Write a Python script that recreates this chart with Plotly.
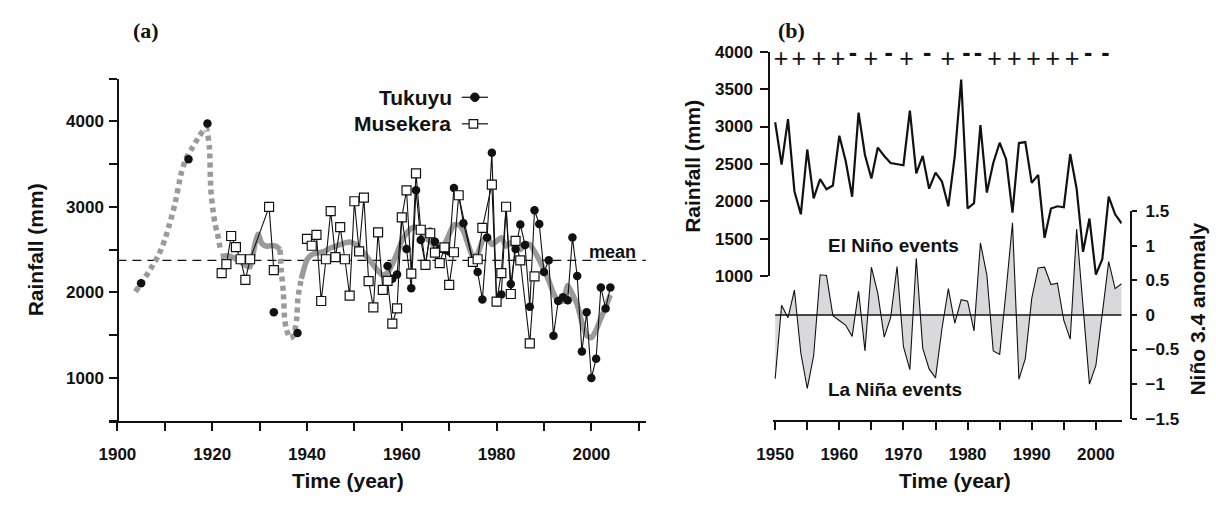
import plotly.graph_objects as go

W, H = 1216, 507

# ---------------- Panel (a) data ----------------
tukuyu_years = [1905, 1915, 1919, 1933, 1938,
                1957, 1958, 1959, 1960, 1961, 1962, 1963, 1964, 1965, 1966, 1967, 1968, 1969, 1970,
                1971, 1972, 1973, 1975, 1976, 1977, 1978, 1979, 1980, 1981, 1982, 1983, 1984, 1985,
                1986, 1987, 1988, 1989, 1990, 1991, 1992, 1993, 1994, 1995, 1996, 1997, 1998, 1999,
                2000, 2001, 2002, 2003, 2004]
tukuyu_rain = [2107, 3558, 3974, 1769, 1525,
               2310, 2160, 2210, 2875, 2507, 2050, 3194, 2613, 2320, 2710, 2594, 2510, 2500, 2480,
               3222, 3135, 2810, 2360, 2240, 1919, 2642, 3634, 1895, 1975, 3005, 2099, 2508, 2793,
               2556, 1833, 2961, 2800, 2238, 2376, 1495, 1900, 1945, 1908, 2643, 2193, 1311, 1769,
               1000, 1225, 2058, 1812, 2058]

musekera_years = [1922, 1923, 1924, 1925, 1926, 1927, 1928, 1932, 1933,
                  1940, 1941, 1942, 1943, 1944, 1945, 1946, 1947, 1948, 1949, 1950, 1951, 1952, 1953,
                  1954, 1955, 1956,
                  1957, 1958, 1959, 1960, 1961, 1962, 1963, 1964, 1965, 1966, 1967, 1968, 1969, 1970,
                  1971, 1972,
                  1975, 1976, 1977, 1979, 1980, 1981, 1982, 1983, 1984, 1985, 1987, 1988]
musekera_rain = [2226, 2331, 2660, 2530, 2388, 2148, 2388, 3000, 2262,
                 2626, 2546, 2673, 1900, 2388, 2950, 2414, 2763, 2388, 1964, 3066, 2481, 3108, 2133,
                 1826, 2703, 2031,
                 2136, 1635, 1814, 2878, 3194, 2219, 3392, 2733, 2323, 2692, 2466, 2342, 2527, 2088,
                 2470, 3136,
                 2358, 2388, 2755, 3260, 1892, 2227, 3002, 1982, 2602, 2376, 1405, 2187]

# smoothed curve (grey); dotted where data are sparse
smooth_early_years = [1903.8, 1905.5, 1907.2, 1908.6, 1910.0, 1911.0, 1912.1, 1913.5, 1914.5,
                      1915.9, 1917.3, 1918.7, 1919.4, 1919.7, 1920.1, 1920.6, 1921.1, 1921.8]
smooth_early_rain = [2010, 2145, 2295, 2425, 2615, 2800, 3025, 3400, 3570,
                     3700, 3830, 3925, 3700, 3210, 2990, 2800, 2690, 2480]

smooth_mid_years = [1921.8, 1923, 1924, 1925, 1926, 1927, 1928, 1929, 1929.7, 1930.5,
                    1931.5, 1932.5, 1933.5, 1934.3]
smooth_mid_rain = [2420, 2430, 2420, 2390, 2360, 2320, 2300, 2560, 2680, 2570,
                   2540, 2550, 2540, 2500]

smooth_gap_years = [1934.3, 1934.6, 1935.0, 1935.3, 1935.7, 1936.4, 1937.1, 1937.8, 1938.1, 1938.8]
smooth_gap_rain = [2500, 2240, 2010, 1680, 1560, 1470, 1490, 1680, 1940, 2160]

smooth_late_years = [1938.8] + list(range(1940, 2005))
smooth_late_rain = [2160,
                    2380, 2440, 2460, 2470, 2490, 2520, 2540, 2560, 2580, 2590,
                    2570, 2520, 2460, 2390, 2320, 2250, 2200, 2230, 2330, 2460,
                    2600, 2690, 2750, 2760, 2720, 2650, 2590, 2540, 2500, 2560,
                    2680, 2790, 2790, 2720, 2560, 2420, 2450, 2600, 2650, 2560,
                    2600, 2640, 2540, 2580, 2530, 2500, 2570, 2560, 2480, 2380,
                    2260, 2140, 1990, 1900, 1900, 2080, 1980, 1860, 1650, 1500,
                    1470, 1560, 1700, 1830, 1970]

mean_rain = 2375

# ---------------- Panel (b) data ----------------
years_b = list(range(1950, 2005))
rain_b = [3057, 2491, 3100, 2136, 1828, 2693, 2041, 2298, 2162, 2213,
          2877, 2535, 2063, 3185, 2620, 2307, 2719, 2607, 2513, 2500,
          2483, 3211, 2375, 2607, 2170, 2384, 2265, 1935, 2603, 3627,
          1905, 1977, 3018, 2118, 2513, 2783, 2564, 1849, 2779, 2792,
          2247, 2355, 1514, 1905, 1935, 1922, 2633, 2170, 1327, 1771,
          1022, 1227, 2063, 1828, 1707]
nino34 = [-0.92, 0.14, -0.04, 0.36, -0.55, -1.06, -0.59, 0.58, 0.57, -0.01,
          -0.08, -0.15, -0.31, 0.34, -0.52, 0.69, 0.31, -0.32, -0.04, 0.70,
          -0.46, -0.79, 0.82, -0.48, -0.78, -0.91, -0.20, 0.38, -0.12, 0.22,
          0.20, -0.23, 1.04, 0.58, -0.52, -0.57, 0.35, 1.33, -0.93, -0.63,
          0.24, 0.68, 0.69, 0.44, 0.46, -0.08, -0.35, 1.24, 0.12, -1.00,
          -0.73, 0.00, 0.77, 0.38, 0.45]
enso_years = [1950.9, 1953.7, 1956.8, 1959.8, 1962.1, 1964.9, 1967.7, 1970.5, 1973.7, 1976.9,
              1979.8, 1981.6, 1984.2, 1987.3, 1990.3, 1993.3, 1996.3, 1998.8, 2001.5, 2004.1]
enso_signs = ["+", "+", "+", "+", "-", "+", "-", "+", "-", "+",
              "-", "-", "+", "+", "+", "+", "+", "-", "-", "-"]

# ---------------- helpers ----------------
FONT = "Liberation Sans, Arial, Helvetica, sans-serif"
SERIF = "Liberation Serif, Times New Roman, serif"
BLACK = "#111111"
GREY = "#9a9a9a"


def PX(x):
    return x / W


def PY(y):
    return 1 - y / H


def with_breaks(xs, ys, max_gap):
    ox, oy = [], []
    for i, (x, y) in enumerate(zip(xs, ys)):
        if i > 0 and x - xs[i - 1] > max_gap:
            ox.append(None)
            oy.append(None)
        ox.append(x)
        oy.append(y)
    return ox, oy


fig = go.Figure()

# mean line
fig.add_trace(go.Scatter(x=[1900, 2011.5], y=[mean_rain, mean_rain], mode="lines",
                         line=dict(color=BLACK, width=1.2, dash="9px,6px"),
                         xaxis="x", yaxis="y", hoverinfo="skip"))

# grey smoothed curve
for xs, ys, dash in [(smooth_early_years, smooth_early_rain, "5px,4px"),
                     (smooth_mid_years, smooth_mid_rain, "solid"),
                     (smooth_gap_years, smooth_gap_rain, "5px,4px"),
                     (smooth_late_years, smooth_late_rain, "solid")]:
    fig.add_trace(go.Scatter(x=xs, y=ys, mode="lines",
                             line=dict(color=GREY, width=5.5, dash=dash, shape="spline", smoothing=0.6),
                             xaxis="x", yaxis="y", hoverinfo="skip"))

# Tukuyu
tx, ty = with_breaks(tukuyu_years, tukuyu_rain, 2)
fig.add_trace(go.Scatter(x=tx, y=ty, mode="lines+markers",
                         line=dict(color=BLACK, width=1.1),
                         marker=dict(symbol="circle", size=8.5, color=BLACK),
                         xaxis="x", yaxis="y", name="Tukuyu"))
# Musekera
mx, my = with_breaks(musekera_years, musekera_rain, 5)
fig.add_trace(go.Scatter(x=mx, y=my, mode="lines+markers",
                         line=dict(color=BLACK, width=1.1),
                         marker=dict(symbol="square", size=9, color="white",
                                     line=dict(color=BLACK, width=1.2)),
                         xaxis="x", yaxis="y", name="Musekera"))

# ---- panel (b)
fig.add_trace(go.Scatter(x=years_b, y=nino34, mode="lines", fill="tozeroy",
                         fillcolor="#d9d9db", line=dict(color=BLACK, width=1.1),
                         xaxis="x2", yaxis="y3", name="Niño 3.4"))
fig.add_trace(go.Scatter(x=years_b, y=rain_b, mode="lines",
                         line=dict(color=BLACK, width=2.2),
                         xaxis="x2", yaxis="y2", name="Rainfall"))

PLUS_Y = 3884
MINUS_Y = 3955
px_ = [x for x, s in zip(enso_years, enso_signs) if s == "+"]
mx_ = [x for x, s in zip(enso_years, enso_signs) if s == "-"]
fig.add_trace(go.Scatter(x=px_, y=[PLUS_Y] * len(px_), mode="text", text=["+"] * len(px_),
                         textfont=dict(family=FONT, size=25, color=BLACK),
                         textposition="middle center", cliponaxis=False,
                         xaxis="x2", yaxis="y2"))
fig.add_trace(go.Scatter(x=mx_, y=[MINUS_Y] * len(mx_), mode="text", text=["-"] * len(mx_),
                         textfont=dict(family=FONT, size=25, color=BLACK, weight="bold"),
                         textposition="middle center", cliponaxis=False,
                         xaxis="x2", yaxis="y2"))

tickfont = dict(family=FONT, size=17, color=BLACK, weight="bold")
axis_common = dict(showline=True, linecolor=BLACK, linewidth=2, ticks="outside",
                   ticklen=8, tickwidth=2, tickcolor=BLACK, showgrid=False,
                   zeroline=False, tickfont=tickfont)

xa_ticks = list(range(1900, 2011, 10))
ya_ticks = list(range(500, 4501, 500))
xb_ticks = list(range(1950, 2001, 5))
yb_ticks = list(range(1000, 4001, 500))
y3_ticks = [-1.5, -1, -0.5, 0, 0.5, 1, 1.5]

fig.update_layout(
    width=W, height=H, margin=dict(l=0, r=0, t=0, b=0),
    paper_bgcolor="white", plot_bgcolor="rgba(0,0,0,0)", showlegend=False,
    xaxis=dict(domain=[PX(94.1), PX(638.3)], range=[1898.2, 2011.5], anchor="y",
               tickvals=xa_ticks, ticklabelstandoff=9,
               ticktext=[str(t) if t % 20 == 0 else "" for t in xa_ticks], **axis_common),
    yaxis=dict(domain=[PY(427.8), PY(72.3)], range=[500, 4500], anchor="free",
               position=PX(103.7), tickvals=ya_ticks, ticklabelstandoff=2,
               ticktext=[str(t) if t % 1000 == 0 else "" for t in ya_ticks], **axis_common),
    xaxis2=dict(domain=[PX(766.7), PX(1120.6)], range=[1949.6, 2004.05], anchor="free",
                position=PY(428.3), tickvals=xb_ticks, ticklabelstandoff=9,
                ticktext=[str(t) if t % 10 == 0 else "" for t in xb_ticks], **axis_common),
    yaxis2=dict(domain=[PY(277.7), PY(44.3)], range=[1000, 4000], anchor="free",
                position=PX(763.3), tickvals=yb_ticks, ticklabelstandoff=4,
                ticktext=[str(t) for t in yb_ticks], **axis_common),
    yaxis3=dict(domain=[PY(425.7), PY(210)], range=[-1.5, 1.5], anchor="free",
                position=PX(1130), side="right", tickvals=y3_ticks, ticklabelstandoff=5,
                ticktext=["\u22121.5", "\u22121", "\u22120.5", "0", "0.5", "1", "1.5"],
                **{**axis_common, "ticklen": 5}),
)

# zero line of the Niño panel
fig.add_shape(type="line", xref="x2", yref="y3", x0=years_b[0], x1=years_b[-1], y0=0, y1=0,
              line=dict(color=BLACK, width=1.6))


def ann(text, x, y, size, angle=0, xanchor="center", family=FONT, bold=True):
    fig.add_annotation(text=text, x=PX(x), y=PY(y), xref="paper", yref="paper",
                       showarrow=False, textangle=angle, xanchor=xanchor, yanchor="middle",
                       font=dict(family=family, size=size, color=BLACK,
                                 weight="bold" if bold else "normal"))


ann("(a)", 132, 22, 22, family=SERIF)
ann("(b)", 786, 22, 22, family=SERIF)
ann("Rainfall (mm)", 20, 250, 21, angle=-90)
ann("Time (year)", 336, 490, 21)
ann("Rainfall (mm)", 686, 163, 21, angle=-90)
ann("Time (year)", 952, 490, 21)
ann("Niño 3.4 anomaly", 1197, 312, 21, angle=-90)
ann("El Niño events", 889, 246, 19)
ann("La Niña events", 891, 395, 19)
ann("mean", 579, 252, 18, xanchor="left")
ann("Tukuyu", 444, 92, 21, xanchor="right")
ann("Musekera", 443, 119, 21, xanchor="right")

# legend glyphs (drawn to the right of the labels)
for yy in (91.7, 119.3):
    fig.add_shape(type="line", xref="paper", yref="paper", x0=PX(451.7), x1=PX(478.3),
                  y0=PY(yy), y1=PY(yy), line=dict(color=BLACK, width=1.2))
fig.add_shape(type="circle", xref="paper", yref="paper", xsizemode="pixel", ysizemode="pixel",
              xanchor=PX(465), yanchor=PY(91.7), x0=-4.3, x1=4.3, y0=-4.3, y1=4.3,
              fillcolor=BLACK, line=dict(color=BLACK, width=1))
fig.add_shape(type="rect", xref="paper", yref="paper", xsizemode="pixel", ysizemode="pixel",
              xanchor=PX(463.5), yanchor=PY(119.3), x0=-4.3, x1=4.3, y0=-4.3, y1=4.3,
              fillcolor="white", line=dict(color=BLACK, width=1.2))

fig.write_html("out.html", config={"displayModeBar": False},
               post_script="document.body.style.margin='0';document.body.style.overflow='hidden';")
